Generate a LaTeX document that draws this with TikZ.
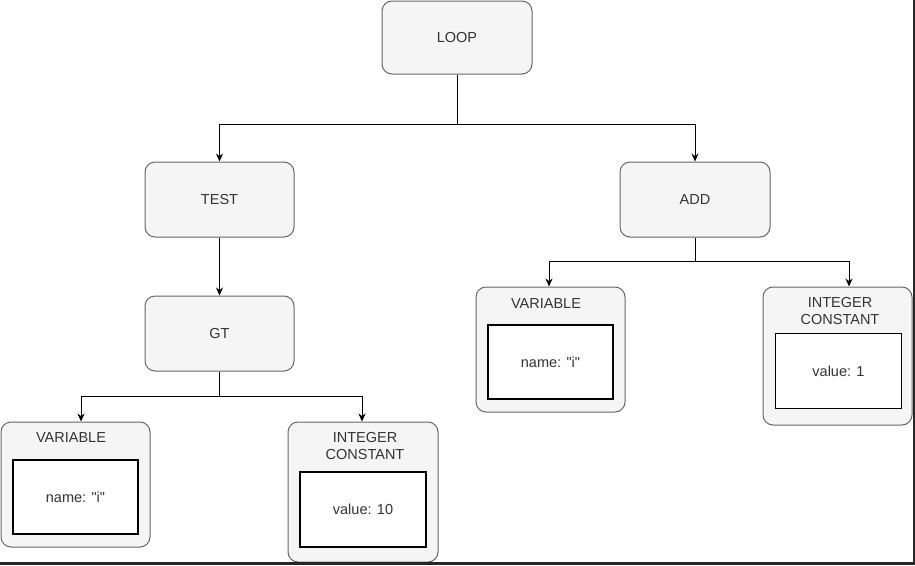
\documentclass[tikz,border=0pt]{standalone}
\usepackage{fontspec}
\newfontfamily\dfam{Liberation Sans}
\usetikzlibrary{arrows.meta}
\definecolor{boxfill}{HTML}{F5F5F5}
\definecolor{boxline}{HTML}{666666}
\definecolor{txt}{HTML}{333333}
\newcommand{\dfont}{\dfam\fontsize{14.5pt}{17pt}\selectfont}
\tikzset{
  box/.style={draw=boxline, fill=boxfill, rounded corners=10pt, line width=1pt, inner sep=0pt, text=txt, font=\dfont},
  inbox/.style={draw=black, fill=white, line width=1.2pt, inner sep=0pt, text=txt, font=\dfont},
  lbl/.style={text=txt, font=\dfont, align=center, inner sep=0pt},
  conn/.style={draw=black, line width=1pt},
  arr/.style={conn, -{Stealth[length=8pt,width=7pt]}},
}
\begin{document}
\begin{tikzpicture}[x=1pt,y=-1pt]
\useasboundingbox (0,0) rectangle (915,565);
% top-level nodes
\node[box, minimum width=150pt, minimum height=73pt] (loop) at (457,37.5) {LOOP};
\node[box, minimum width=149pt, minimum height=75pt] (test) at (219.5,199.5) {TEST};
\node[box, minimum width=150pt, minimum height=75pt] (add) at (695,199.5) {ADD};
\node[box, minimum width=149pt, minimum height=75pt] (gt) at (219.5,333.5) {GT};
% left variable
\node[box, minimum width=149pt, minimum height=125pt] (var1) at (75.5,484.5) {};
\node[lbl] (var1t) at (71,437.5) {VARIABLE};
\node[inbox, minimum width=125pt, minimum height=74pt] (var1v) at (75.5,497) {name: "i"};
% left integer constant
\node[box, minimum width=150pt, minimum height=140pt] (int1) at (363,492) {};
\node[lbl] (int1t) at (365,446.5) {INTEGER\\CONSTANT};
\node[inbox, minimum width=126pt, minimum height=75pt] (int1v) at (363,509.5) {value: 10};
% right variable
\node[box, minimum width=149pt, minimum height=125pt] (var2) at (550.5,349.5) {};
\node[lbl] (var2t) at (546,303.5) {VARIABLE};
\node[inbox, minimum width=125pt, minimum height=74pt] (var2v) at (550.5,362) {name: "i"};
% right integer constant
\node[box, minimum width=149pt, minimum height=138pt] (int2) at (837.5,356) {};
\node[lbl] (int2t) at (840,311.5) {INTEGER\\CONSTANT};
\node[inbox, minimum width=126pt, minimum height=75pt] (int2v) at (838.5,371) {value: 1};
% junctions
\coordinate (j1) at (457,124);
\coordinate (j2) at (219.5,396);
\coordinate (j3) at (695,261);
% connectors
\draw[conn] (loop.south) -- (j1);
\draw[arr] (j1) -| (test.north);
\draw[arr] (j1) -| (add.north);
\draw[arr] (test.south) -- (gt.north);
\draw[conn] (gt.south) -- (j2);
\draw[arr] (j2) -| (var1.north -| 81,0);
\draw[arr] (j2) -| (int1.north -| 362,0);
\draw[conn] (add.south) -- (j3);
\draw[arr] (j3) -| (var2.north -| 549,0);
\draw[arr] (j3) -| (int2.north -| 849,0);
% frame edges
\draw[line width=3pt, color=black!85] (0,563.5) -- (915,563.5);
\draw[line width=2pt, color=black!85] (914,0) -- (914,565);
\end{tikzpicture}
\end{document}
